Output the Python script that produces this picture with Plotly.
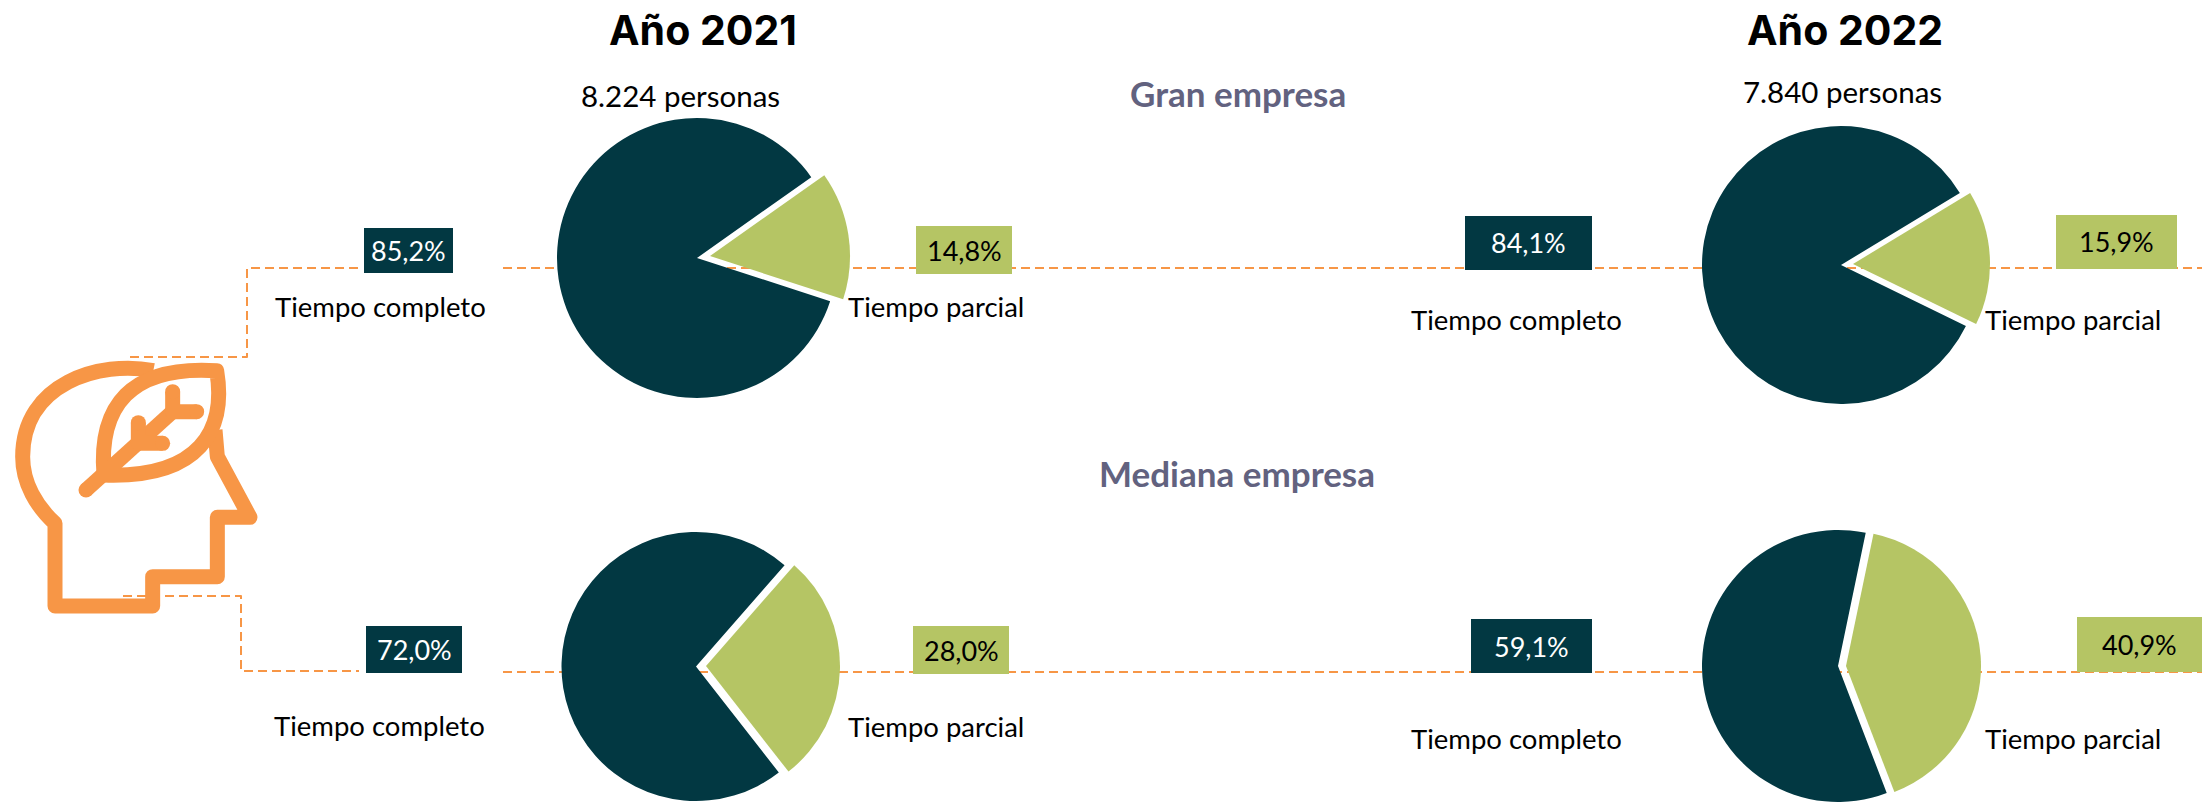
import plotly.graph_objects as go

W, H = 2202, 802
DARK, GREEN, ORANGE, TITLE = "#023842", "#B5C564", "#F79646", "#62627F"
CLEAR = "rgba(0,0,0,0)"

# ---- data ----
categories = ["Tiempo completo", "Tiempo parcial"]
gran_2021 = [85.2, 14.8]
gran_2022 = [84.1, 15.9]
mediana_2021 = [72.0, 28.0]
mediana_2022 = [59.1, 40.9]
personas = ["8.224 personas", "7.840 personas"]
years = ["Año 2021", "Año 2022"]
sections = ["Gran empresa", "Mediana empresa"]

def pct(v):
    return f"{v:.1f}%".replace(".", ",")

def px(x): return x / W
def py(y): return 1 - y / H

fig = go.Figure()

# values, rotation, dark centre, dark radius, green centre, green radius
pies = [
    (gran_2021, 108, (697, 258), 140, (710, 256), 140),
    (gran_2022, 116, (1841, 265), 139, (1853, 264), 137),
    (mediana_2021, 142, (696, 666.5), 134.5, (706, 666), 134),
    (mediana_2022, 159, (1838, 666), 136, (1846, 666), 135),
]
def add_slice(values, rot, c, r, colors):
    fig.add_trace(go.Pie(
        labels=categories, values=values, sort=False, direction="clockwise",
        rotation=rot, textinfo="none", showlegend=False, hole=0,
        marker=dict(colors=colors, line=dict(width=0)),
        domain=dict(x=[px(c[0] - r), px(c[0] + r)], y=[py(c[1] + r), py(c[1] - r)]),
    ))
for vals, rot, c1, r1, c2, r2 in pies:
    add_slice(vals, rot, c1, r1, [DARK, CLEAR])
    add_slice(vals, rot, c2, r2, [CLEAR, GREEN])

shapes, ann = [], []

def poly(points, width=2, dash="9px,5px", color=ORANGE, layer="below"):
    d = "M" + " L".join(f"{px(x):.5f},{py(y):.5f}" for x, y in points)
    shapes.append(dict(type="path", xref="paper", yref="paper", path=d, layer=layer,
                       line=dict(color=color, width=width, dash=dash)))

# dashed connectors
poly([(130, 357), (247, 357), (247, 268), (360, 268)])
poly([(503, 268), (2202, 268)])
poly([(123, 596), (241, 596), (241, 671), (359, 671)])
poly([(503, 672), (2202, 672)])

def text(x, y, s, size=27, color="#000000", family="Lato", bold=False):
    ann.append(dict(x=px(x), y=py(y), xref="paper", yref="paper", text=f"<b>{s}</b>" if bold else s,
                    showarrow=False, xanchor="center", yanchor="middle",
                    font=dict(size=size, color=color, family=family)))

def box(x0, y0, x1, y1, fill, s, color):
    shapes.append(dict(type="rect", xref="paper", yref="paper", x0=px(x0), x1=px(x1),
                       y0=py(y1), y1=py(y0), fillcolor=fill, line=dict(width=0), layer="below"))
    text((x0 + x1) / 2, (y0 + y1) / 2, s, color=color)

box(364, 228, 453, 273, DARK, pct(gran_2021[0]), "#FFFFFF")
box(916, 226, 1012, 274, GREEN, pct(gran_2021[1]), "#000000")
box(1465, 216, 1592, 270, DARK, pct(gran_2022[0]), "#FFFFFF")
box(2056, 215, 2177, 269, GREEN, pct(gran_2022[1]), "#000000")
box(366, 626, 462, 673, DARK, pct(mediana_2021[0]), "#FFFFFF")
box(913, 626, 1009, 674, GREEN, pct(mediana_2021[1]), "#000000")
box(1471, 619, 1592, 673, DARK, pct(mediana_2022[0]), "#FFFFFF")
box(2077, 617, 2202, 672, GREEN, pct(mediana_2022[1]), "#000000")

for x, y in [(380, 306), (1516, 319), (379, 725), (1516, 738)]:
    text(x, y, categories[0], size=27.5)
for x, y in [(936, 306), (2073, 319), (936, 726), (2073, 738)]:
    text(x, y, categories[1], size=27.5)

text(680, 95, personas[0], size=29.5)
text(1842, 92, personas[1], size=29.5)
text(703, 30, years[0], size=41, family="Inter", bold=True)
text(1845, 30, years[1], size=41, family="Inter", bold=True)
text(1238, 93, sections[0], size=35, color=TITLE, family="Lato", bold=True)
text(1237, 473, sections[1], size=35, color=TITLE, family="Lato", bold=True)

# head-and-leaf icon (coordinates from a 3x crop with origin 0,240)
def z(x, y): return (x / 3, 240 + y / 3)
def svg(cmds):
    out = []
    for c in cmds:
        if isinstance(c, str):
            out.append(c)
        else:
            a, b = z(*c)
            out.append(f"{px(a):.5f},{py(b):.5f}")
    shapes.append(dict(type="path", xref="paper", yref="paper", path=" ".join(out), layer="above",
                       line=dict(color=ORANGE, width=15)))
def dot(x, y, r=7.5):
    a, b = z(x, y)
    shapes.append(dict(type="circle", xref="paper", yref="paper", layer="above",
                       x0=px(a - r), x1=px(a + r), y0=py(b + r), y1=py(b - r),
                       fillcolor=ORANGE, line=dict(width=0)))

svg(["M", (460, 392), "C", (300, 360), (68, 430), (68, 650), "C", (68, 730), (110, 800), (165, 850),
     "L", (165, 1098), "L", (458, 1098), "L", (458, 1010), "L", (652, 1010), "L", (652, 832),
     "L", (750, 832), "L", (652, 650), "L", (645, 570)])
svg(["M", (312, 705), "C", (295, 500), (390, 375), (650, 392), "C", (680, 570), (600, 715), (312, 705)])
svg(["M", (258, 750), "L", (540, 495)])
svg(["M", (518, 455), "L", (518, 515), "L", (590, 515)])
svg(["M", (415, 548), "L", (415, 610), "L", (488, 610)])
for p in [(258, 750), (518, 455), (590, 515), (415, 548), (488, 610)]:
    dot(*p)

fig.update_layout(width=W, height=H, margin=dict(l=0, r=0, t=0, b=0), paper_bgcolor="#FFFFFF",
                  plot_bgcolor="#FFFFFF", shapes=shapes, annotations=ann, showlegend=False)
fig.write_html("out.html", config={"displayModeBar": False},
               post_script=("document.body.style.margin='0';document.documentElement.style.overflow='hidden';"
                            "document.querySelectorAll('.shapelayer path').forEach(function(p){p.style.strokeLinejoin='round';});"))
